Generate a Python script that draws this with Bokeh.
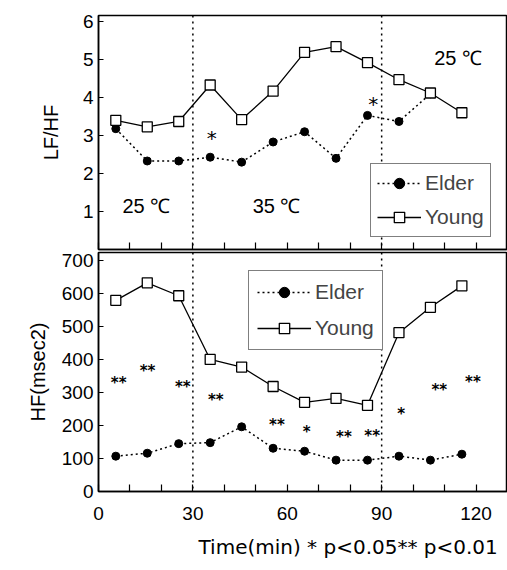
from bokeh.plotting import figure
from bokeh.layouts import column
from bokeh.models import FixedTicker, Span, Legend, LegendItem, Title
from bokeh.core.properties import value
from bokeh.embed import file_html
from bokeh.resources import INLINE

# ---- data ----
time = [5.5, 15.5, 25.5, 35.5, 45.5, 55.5, 65.5, 75.5, 85.5, 95.5, 105.5, 115.5]
lfhf_young = [3.4, 3.23, 3.37, 4.33, 3.42, 4.17, 5.19, 5.34, 4.92, 4.47, 4.12, 3.6]
lfhf_elder = [3.18, 2.33, 2.33, 2.43, 2.3, 2.83, 3.1, 2.4, 3.53, 3.37, 4.1]
hf_young = [579, 632, 593, 400, 377, 318, 270, 282, 261, 481, 558, 623]
hf_elder = [107, 116, 145, 148, 196, 131, 122, 95, 95, 107, 95, 113]
phase_bounds = [30, 90]
temp_text = ["25 \u2103", "35 \u2103", "25 \u2103"]
temp_x = [7.6, 49.0, 106.7]
temp_y = [0.86, 0.86, 4.76]
sig_top_x = [36.0, 87.3]
sig_top_y = [3.1, 4.0]
sig_top_text = ["*", "*"]
sig_bot_x = [6.4, 15.6, 26.8, 37.3, 56.7, 66.2, 78.0, 87.0, 96.2, 108.3, 119.0]
sig_bot_y = [341, 377, 329, 288, 214, 193, 178, 181, 246, 320, 344]
sig_bot_text = ["**", "**", "**", "**", "**", "*", "**", "**", "*", "**", "**"]
x_major = [0, 30, 60, 90, 120]
x_minor = [10, 20, 40, 50, 70, 80, 100, 110, 130]
top_yticks = [1, 2, 3, 4, 5, 6]
bot_yticks = [0, 100, 200, 300, 400, 500, 600, 700]

FONT = "Liberation Sans"
TICK_FS = "19px"


def style(p):
    p.outline_line_color = "black"
    p.outline_line_width = 1.5
    p.xgrid.visible = False
    p.ygrid.visible = False
    for ax in p.axis:
        ax.axis_line_width = 1.5
        ax.major_tick_in = 7
        ax.major_tick_out = 0
        ax.minor_tick_in = 7
        ax.minor_tick_out = 0
        ax.major_tick_line_width = 1.2
        ax.minor_tick_line_width = 1.2
        ax.major_label_text_font = FONT
        ax.major_label_text_font_size = TICK_FS
        ax.major_label_text_color = "black"
        ax.axis_label_text_font = FONT
        ax.axis_label_text_font_size = "20px"
        ax.axis_label_text_font_style = "normal"
        ax.axis_label_text_color = "black"
    p.yaxis.minor_tick_line_color = None
    p.yaxis.major_tick_in = 5
    p.xaxis.ticker = FixedTicker(ticks=x_major, minor_ticks=x_minor)


def make_legend(r_elder, r_young, loc, gw, pad, sp):
    return Legend(items=[LegendItem(label="Elder", renderers=r_elder),
                         LegendItem(label="Young", renderers=r_young)],
                  location=loc, label_text_font=FONT, label_text_font_size="21px",
                  border_line_color="black", border_line_width=1.2,
                  glyph_width=gw, glyph_height=26, label_height=26,
                  label_standoff=4, padding=pad, spacing=sp, margin=0,
                  background_fill_alpha=1.0)


# ---- top panel ----
p1 = figure(width=507, height=251, x_range=(0, 130), y_range=(0, 6.16),
            output_backend="svg", toolbar_location=None,
            min_border_left=98, min_border_right=0, min_border_top=15, min_border_bottom=2)
style(p1)
p1.yaxis.ticker = FixedTicker(ticks=top_yticks)
p1.yaxis.axis_label = "LF/HF"
p1.yaxis.axis_label_standoff = 18
p1.xaxis.major_label_overrides = {t: "" for t in x_major}
p1.xaxis.major_label_standoff = 0

for b in phase_bounds:
    p1.add_layout(Span(location=b, dimension="height", line_color="black",
                       line_dash="2 4", line_width=1.5))

ne = len(lfhf_elder)
ye1 = p1.line(time[:ne], lfhf_elder, line_color="black", line_width=1.5, line_dash="2 3")
ye2 = p1.scatter(time[:ne], lfhf_elder, marker="circle", size=8,
                 fill_color="black", line_color="black")
yy1 = p1.line(time, lfhf_young, line_color="black", line_width=1.3)
yy2 = p1.scatter(time, lfhf_young, marker="square", size=10, fill_color="white",
                 line_color="black", line_width=1.3)

p1.text(x=temp_x, y=temp_y, text=temp_text, text_font=value(FONT), text_font_size="20px",
        text_align="left", text_baseline="bottom", text_color="black")
p1.text(x=sig_top_x, y=sig_top_y, text=sig_top_text, text_font=value("DejaVu Sans"),
        text_font_size="20px", text_align="center", text_baseline="middle",
        y_offset=6, text_color="black")

p1.add_layout(make_legend([ye1, ye2], [yy1, yy2], (272, 12), 44, 6, 8))

# ---- bottom panel ----
p2 = figure(width=507, height=319, x_range=(0, 130), y_range=(0, 724),
            output_backend="svg", toolbar_location=None,
            min_border_left=98, min_border_right=0, min_border_top=1, min_border_bottom=79)
style(p2)
p2.yaxis.ticker = FixedTicker(ticks=bot_yticks)
p2.yaxis.axis_label = "HF(msec2)"
p2.yaxis.axis_label_standoff = 10
p2.xaxis.major_label_standoff = 15

for b in phase_bounds:
    p2.add_layout(Span(location=b, dimension="height", line_color="black",
                       line_dash="2 4", line_width=1.5))

he1 = p2.line(time, hf_elder, line_color="black", line_width=1.5, line_dash="2 3")
he2 = p2.scatter(time, hf_elder, marker="circle", size=8, fill_color="black", line_color="black")
hy1 = p2.line(time, hf_young, line_color="black", line_width=1.3)
hy2 = p2.scatter(time, hf_young, marker="square", size=10, fill_color="white",
                 line_color="black", line_width=1.3)

p2.text(x=sig_bot_x, y=sig_bot_y, text=sig_bot_text, text_font=value("DejaVu Sans"),
        text_font_size="15px", text_font_style="bold", text_align="center",
        text_baseline="middle", y_offset=4, text_color="black")

p2.add_layout(make_legend([he1, he2], [hy1, hy2], (150, 141), 54, 8, 10))

p2.add_layout(Title(text="Time(min)  * p<0.05** p<0.01", align="left", offset=100,
                    text_font="DejaVu Sans", text_font_size="20px", text_font_style="normal",
                    text_color="black", standoff=21), "below")

layout = column(p1, p2, spacing=0)
open("out.html", "w").write(file_html(layout, INLINE))
